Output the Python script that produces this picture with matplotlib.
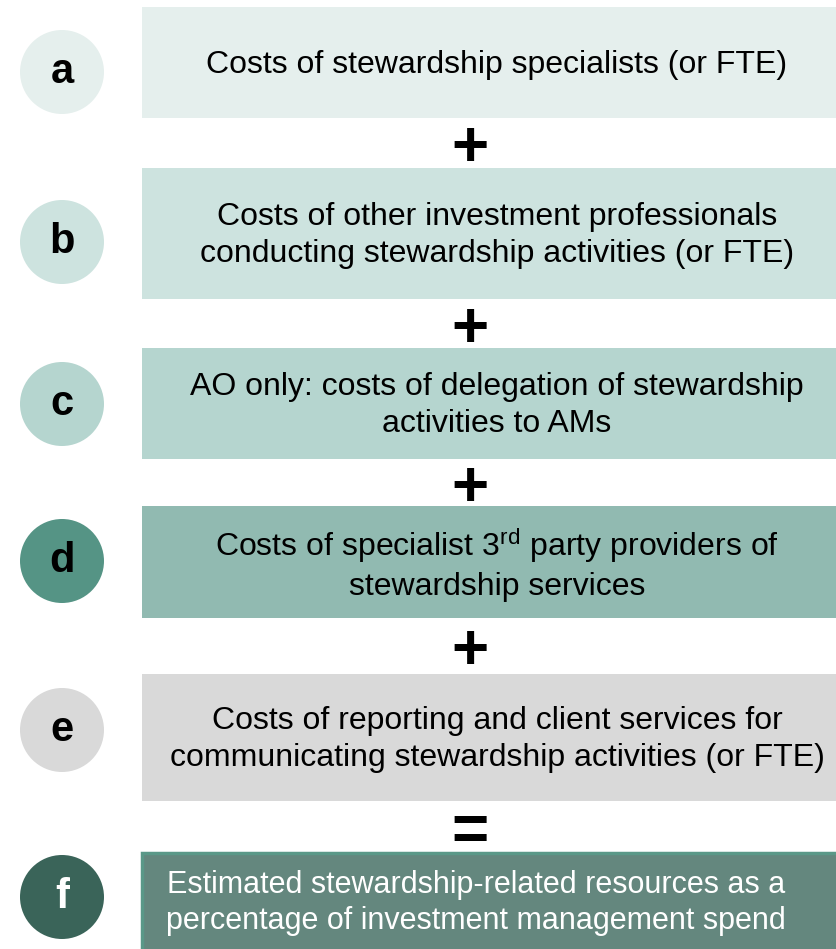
import matplotlib
matplotlib.use("Agg")
import matplotlib.pyplot as plt
from matplotlib.patches import Rectangle, Circle

plt.rcParams["font.family"] = ["Liberation Sans", "DejaVu Sans"]
plt.rcParams["mathtext.fontset"] = "custom"
plt.rcParams["mathtext.rm"] = "Liberation Sans"
plt.rcParams["mathtext.it"] = "Liberation Sans"

# 各步骤内容
letters = ["a", "b", "c", "d", "e", "f"]
descriptions = [
    "Costs of stewardship specialists (or FTE)",
    "Costs of other investment professionals\nconducting stewardship activities (or FTE)",
    "AO only: costs of delegation of stewardship\nactivities to AMs",
    "Costs of specialist 3$^{\\mathrm{rd}}$ party providers of\nstewardship services",
    "Costs of reporting and client services for\ncommunicating stewardship activities (or FTE)",
    "Estimated stewardship-related resources as a\npercentage of investment management spend",
]
operators = ["+", "+", "+", "+", "="]

# 布局（像素坐标）
box_top = [7, 168, 348, 506, 674, 853]
box_bottom = [118, 299, 459, 618, 801, 960]
circle_y = [72, 242, 404, 561, 730, 897]
box_fill = ["#e5efed", "#cde3df", "#b5d5cf", "#91bab1", "#d9d9d9", "#64877e"]
circle_fill = ["#e5efed", "#cde3df", "#b5d5cf", "#559485", "#d9d9d9", "#3a6459"]
text_color = ["black"] * 5 + ["white"]
text_x = [497, 497, 497, 497, 497, 476]
text_size = [23, 23, 23, 23, 23, 22]

W, H = 837, 949
fig = plt.figure(figsize=(W / 100, H / 100), dpi=100)
ax = fig.add_axes([0, 0, 1, 1])
ax.set_xlim(0, W)
ax.set_ylim(H, 0)
ax.set_aspect("equal")
ax.axis("off")

box_left = 142
circle_x = 62
radius = 42

for i, letter in enumerate(letters):
    top, bottom = box_top[i], box_bottom[i]
    if i == len(letters) - 1:
        rect = Rectangle((box_left, top), W + 20 - box_left, bottom - top,
                         facecolor=box_fill[i], edgecolor="#5a9888", linewidth=2.5)
    else:
        rect = Rectangle((box_left, top), W + 20 - box_left, bottom - top,
                         facecolor=box_fill[i], edgecolor="none")
    ax.add_patch(rect)
    ax.add_patch(Circle((circle_x, circle_y[i]), radius, facecolor=circle_fill[i], edgecolor="none"))
    ax.text(circle_x, circle_y[i], letter, ha="center", va="center", fontsize=30,
            fontweight="bold", color=text_color[i])
    mid = (top + min(bottom, H)) / 2
    ax.text(text_x[i], mid + 2, descriptions[i], ha="center", va="center", fontsize=text_size[i],
            color=text_color[i], linespacing=1.28)

# 运算符
for i, op in enumerate(operators):
    gap_mid = (box_bottom[i] + box_top[i + 1]) / 2
    ax.text(470, gap_mid + 23, op, ha="center", va="baseline", fontsize=46,
            fontweight="bold", color="black")

fig.savefig("out.png", dpi=100)
plt.close(fig)
